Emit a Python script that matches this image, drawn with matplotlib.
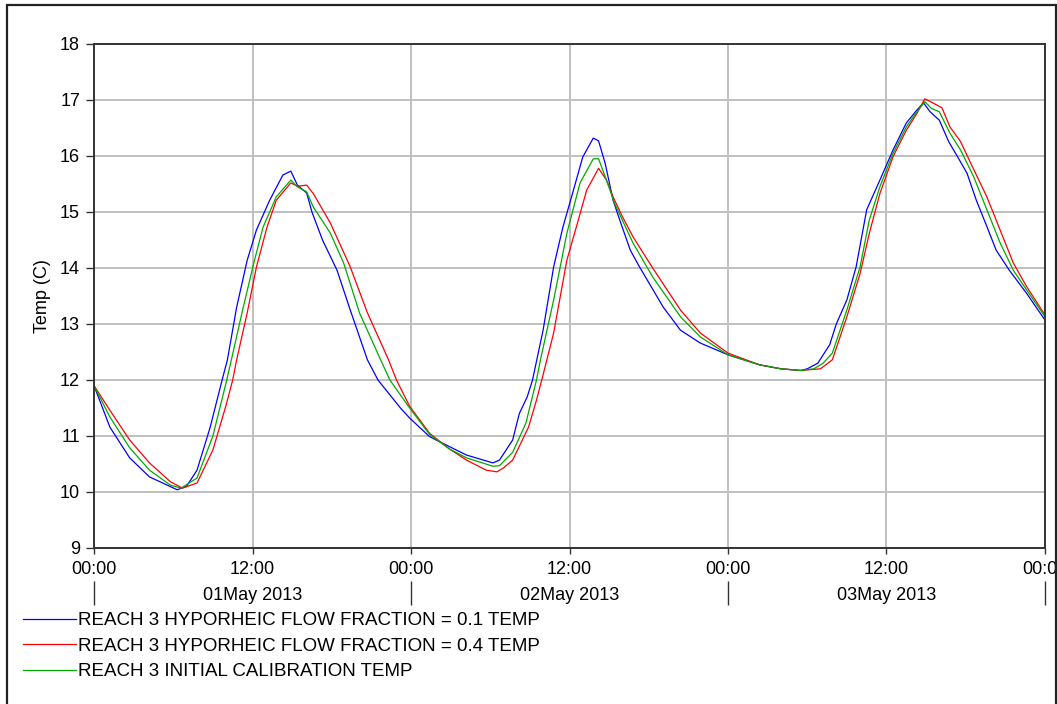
import matplotlib
matplotlib.use("Agg")
import matplotlib.pyplot as plt
from matplotlib.patches import Rectangle

plt.rcParams['font.family'] = ['Liberation Sans', 'DejaVu Sans']

# hours since 01May2013 00:00
hours_01 = [0, 1.2, 2.7, 4.2, 6.3, 7.0, 7.8, 8.8, 9.7, 10.1, 10.8, 11.6, 12.3, 13.3, 14.3, 14.9,
            15.4, 16.1, 16.5, 17.3, 18.4, 19.4, 20.7, 21.5, 23.2, 23.9, 25.4, 26.4, 28.2, 30.2,
            30.7, 31.7, 32.2, 32.8, 33.2, 34.0, 34.8, 35.5, 36.3, 37.0, 37.8, 38.2, 38.7, 39.3,
            39.8, 40.6, 41.3, 43.1, 44.4, 45.9, 48.0, 50.4, 52.0, 53.5, 54.0, 54.8, 55.7, 56.2,
            57.0, 57.7, 58.5, 59.5, 60.5, 61.5, 62.3, 62.8, 63.3, 64.0, 64.7, 65.3, 66.1, 66.8,
            67.6, 68.3, 69.3, 70.6, 72]
temp_01 = [11.9, 11.16, 10.61, 10.27, 10.04, 10.1, 10.39, 11.16, 12.0, 12.36, 13.3, 14.14, 14.68,
           15.21, 15.66, 15.73, 15.48, 15.34, 15.0, 14.5, 13.96, 13.25, 12.36, 12.0, 11.5, 11.32,
           10.99, 10.87, 10.66, 10.52, 10.57, 10.93, 11.4, 11.7, 12.0, 12.89, 14.02, 14.73, 15.39,
           15.98, 16.32, 16.27, 15.87, 15.21, 14.86, 14.32, 14.02, 13.3, 12.89, 12.66, 12.45,
           12.27, 12.2, 12.17, 12.2, 12.3, 12.63, 13.0, 13.43, 14.02, 15.04, 15.57, 16.11, 16.59,
           16.82, 16.95, 16.79, 16.64, 16.26, 16.02, 15.69, 15.21, 14.74, 14.32, 13.96, 13.55, 13.07]

hours_04 = [0, 1.2, 2.7, 4.2, 5.8, 6.7, 7.8, 9.0, 10.0, 10.5, 10.8, 11.6, 12.3, 13.1, 13.8, 14.9,
            15.4, 16.1, 16.6, 17.9, 19.4, 20.7, 22.3, 22.9, 23.9, 25.4, 26.9, 28.2, 29.7, 30.5,
            31.0, 31.7, 32.9, 33.5, 33.9, 34.8, 35.8, 36.6, 37.3, 38.2, 38.8, 39.3, 40.0, 40.8,
            42.3, 44.4, 45.9, 48.0, 50.4, 52.0, 53.5, 55.0, 55.9, 57.0, 58.0, 58.7, 59.5, 60.5,
            61.5, 62.3, 62.9, 63.5, 64.2, 64.8, 65.6, 66.5, 67.6, 68.6, 69.6, 70.6, 72]
temp_04 = [11.9, 11.46, 10.93, 10.52, 10.18, 10.07, 10.16, 10.75, 11.55, 12.0, 12.36, 13.2, 14.02,
           14.73, 15.21, 15.52, 15.46, 15.48, 15.33, 14.8, 14.02, 13.2, 12.36, 12.0, 11.53, 11.05,
           10.77, 10.57, 10.39, 10.36, 10.43, 10.57, 11.16, 11.64, 12.0, 12.84, 14.14, 14.8, 15.39,
           15.78, 15.57, 15.27, 14.92, 14.56, 14.0, 13.25, 12.84, 12.48, 12.27, 12.2, 12.17, 12.2,
           12.36, 13.13, 13.9, 14.62, 15.33, 15.99, 16.46, 16.76, 17.02, 16.95, 16.86, 16.52,
           16.26, 15.81, 15.27, 14.68, 14.09, 13.67, 13.16]

hours_cal = [0, 1.2, 2.7, 4.2, 5.8, 6.6, 7.8, 9.0, 10.0, 10.4, 11.3, 12.1, 12.8, 13.8, 14.9, 15.4,
             16.1, 16.6, 17.9, 18.9, 20.1, 21.7, 22.4, 23.9, 25.4, 26.9, 28.2, 30.2, 30.7, 31.7,
             32.7, 33.5, 33.8, 34.8, 35.8, 36.8, 37.8, 38.2, 38.8, 39.4, 40.8, 42.3, 44.4, 45.9,
             48.0, 50.4, 52.0, 53.5, 54.5, 55.2, 55.9, 57.0, 58.0, 58.7, 59.5, 60.5, 61.5, 62.3,
             62.9, 63.4, 64.0, 64.8, 65.6, 66.6, 67.6, 68.6, 69.6, 70.6, 72]
temp_cal = [11.9, 11.34, 10.79, 10.39, 10.12, 10.07, 10.25, 11.0, 11.95, 12.36, 13.3, 14.09, 14.73,
            15.27, 15.57, 15.45, 15.36, 15.09, 14.62, 14.09, 13.2, 12.36, 12.0, 11.5, 11.03, 10.77,
            10.61, 10.46, 10.47, 10.71, 11.23, 12.0, 12.36, 13.43, 14.62, 15.52, 15.95, 15.95,
            15.57, 15.16, 14.45, 13.84, 13.13, 12.77, 12.45, 12.27, 12.2, 12.17, 12.2, 12.3, 12.48,
            13.25, 14.02, 14.86, 15.45, 16.05, 16.52, 16.79, 16.97, 16.85, 16.79, 16.41, 16.11,
            15.63, 15.04, 14.45, 13.96, 13.61, 13.13]

tick_hours = [0, 12, 24, 36, 48, 60, 72]
tick_labels = ["00:00", "12:00", "00:00", "12:00", "00:00", "12:00", "00:00"]
day_bounds = [0, 24, 48, 72]
day_mids = [12, 36, 60]
day_labels = ["01May 2013", "02May 2013", "03May 2013"]

labels = ["REACH 3 HYPORHEIC FLOW FRACTION = 0.1 TEMP",
          "REACH 3 HYPORHEIC FLOW FRACTION = 0.4 TEMP",
          "REACH 3 INITIAL CALIBRATION TEMP"]

W, H = 1057, 704
FS = 13
fig = plt.figure(figsize=(W / 100, H / 100), dpi=100)
ax = fig.add_axes([94 / W, 1 - 548 / H, (1045 - 94) / W, (548 - 44) / H])

ax.plot(hours_01, temp_01, color="#0000ff", lw=0.9, label=labels[0])
ax.plot(hours_04, temp_04, color="#ff0000", lw=0.9, label=labels[1])
ax.plot(hours_cal, temp_cal, color="#00aa00", lw=0.9, label=labels[2])

ax.set_xlim(0, 72)
ax.set_ylim(9, 18)
ax.set_yticks(range(9, 19))
ax.set_xticks(tick_hours)
ax.set_xticklabels(tick_labels)
ax.grid(True, color="#c0c0c0", lw=1.4)
ax.set_axisbelow(True)
for s in ax.spines.values():
    s.set_color("#333333")
    s.set_linewidth(1.4)
ax.tick_params(axis="y", length=6, width=1, color="#333333", labelsize=FS, pad=4)
ax.tick_params(axis="x", length=4, width=1, color="#333333", labelsize=FS, pad=5.5)
ax.set_ylabel("Temp (C)", fontsize=FS)
ax.yaxis.set_label_coords(-0.045, 0.5)

# day row with separators
sec = ax.secondary_xaxis(-0.065)
sec.spines["bottom"].set_visible(False)
sec.set_xticks(day_bounds)
sec.set_xticklabels([])
sec.tick_params(axis="x", which="major", length=17, width=1, color="#333333")
sec.set_xticks(day_mids, minor=True)
sec.set_xticklabels(day_labels, minor=True)
sec.tick_params(axis="x", which="minor", length=0, labelsize=FS, pad=4.5)

fig.legend(loc="upper left", bbox_to_anchor=(23 / W, 1 - 612 / H), frameon=False,
           fontsize=13.5, handlelength=2.8, handletextpad=0.15, labelspacing=0.45,
           borderaxespad=0, borderpad=0)

fig.patches.append(Rectangle((7 / W, -0.02), (1056 - 7) / W, 1.02 - 5 / H,
                             transform=fig.transFigure, fill=False, ec="#222222", lw=1.6))

fig.savefig("out.png", dpi=100)
